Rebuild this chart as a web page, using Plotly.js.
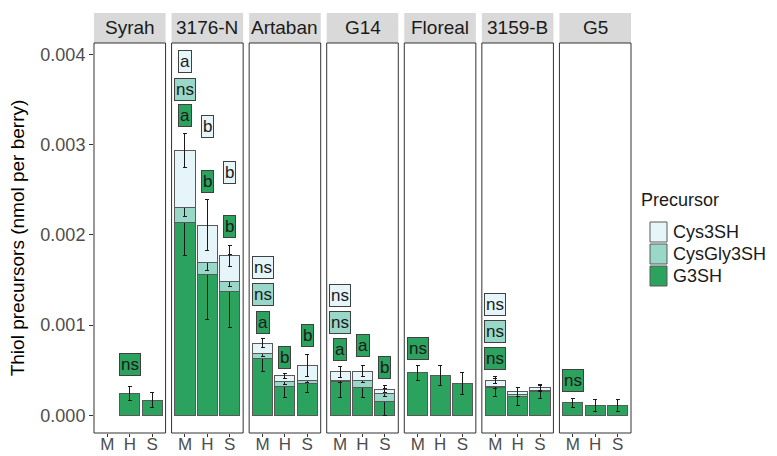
<!DOCTYPE html>
<html>
<head>
<meta charset="utf-8">
<script src="https://cdn.plot.ly/plotly-3.0.1.min.js"></script>
<style>html,body{margin:0;padding:0;background:#fff;}#chart{width:777px;height:456px;}</style>
</head>
<body>
<div id="chart"></div>
<script>
// ---------- data ----------
const categories = ['M', 'H', 'S'];
const facets = ['Syrah', '3176-N', 'Artaban', 'G14', 'Floreal', '3159-B', 'G5'];
const precursors = ['G3SH', 'CysGly3SH', 'Cys3SH'];
const legendOrder = ['Cys3SH', 'CysGly3SH', 'G3SH'];

// stacked segment sizes (nmol per berry), one row per facet, columns M,H,S
const g3sh = [
  [null, 0.00024, 0.000167],
  [0.00214, 0.001567, 0.001378],
  [0.00063, 0.00032, 0.00035],
  [0.00037, 0.00031, 0.00015],
  [0.00047, 0.000437, 0.00035],
  [0.000307, 0.00021, 0.00026],
  [0.000137, 0.00011, 0.00011]
];
const cysgly3sh = [
  [null, null, null],
  [0.00017, 0.000123, 0.000111],
  [0.000055, 0.00005, 0.00004],
  [0.00002, 0.00008, 0.00009],
  [null, null, null],
  [0.000013, 0.000023, 0.00002],
  [null, null, null]
];
const cys3sh = [
  [null, null, null],
  [0.00063, 0.00042, 0.000278],
  [0.000112, 0.000067, 0.000165],
  [0.00009, 0.0001, 0.00005],
  [null, null, null],
  [0.00007, 0.000027, 0.00003],
  [null, null, null]
];
// standard errors
const g3shErr = [
  [null, 0.00008, 0.000085],
  [0.00037, 0.0005, 0.0004],
  [0.00015, 0.00012, 0.0001],
  [0.00017, 0.00011, 0.00015],
  [0.00008, 0.00011, 0.00012],
  [0.0001, 0.0001, 0.00007],
  [0.00005, 0.00007, 0.00007]
];
const cysgly3shErr = [
  [null, null, null],
  [0.0001, 0.00008, 0.00006],
  [0.00003, 0.00003, 0.00003],
  [0.00003, 0.00003, 0.00003],
  [null, null, null],
  [0.00002, 0.00002, 0.00002],
  [null, null, null]
];
const cys3shErr = [
  [null, null, null],
  [0.00019, 0.00028, 0.00012],
  [0.00005, 0.00003, 0.00012],
  [0.00006, 0.00006, 0.00004],
  [null, null, null],
  [0.00004, 0.00005, 0.00003],
  [null, null, null]
];

// significance labels
const labelFacet = ['Syrah', '3176-N', '3176-N', '3176-N', '3176-N', '3176-N', '3176-N', '3176-N',
  'Artaban', 'Artaban', 'Artaban', 'Artaban', 'Artaban',
  'G14', 'G14', 'G14', 'G14', 'G14',
  'Floreal', '3159-B', '3159-B', '3159-B', 'G5'];
const labelCat = ['H', 'M', 'M', 'M', 'H', 'H', 'S', 'S',
  'M', 'M', 'M', 'H', 'S',
  'M', 'M', 'M', 'H', 'S',
  'M', 'M', 'M', 'M', 'M'];
const labelY = [0.00056, 0.00393, 0.00361, 0.00333, 0.0032, 0.00259, 0.00269, 0.00209,
  0.00164, 0.00134, 0.00103, 0.00064, 0.00088,
  0.00133, 0.00103, 0.00073, 0.00077, 0.00053,
  0.00074, 0.00123, 0.00093, 0.00063, 0.00039];
const labelText = ['ns', 'a', 'ns', 'a', 'b', 'b', 'b', 'b',
  'ns', 'ns', 'a', 'b', 'b',
  'ns', 'ns', 'a', 'a', 'b',
  'ns', 'ns', 'ns', 'ns', 'ns'];
const labelPrec = ['G3SH', 'Cys3SH', 'CysGly3SH', 'G3SH', 'Cys3SH', 'G3SH', 'Cys3SH', 'G3SH',
  'Cys3SH', 'CysGly3SH', 'G3SH', 'G3SH', 'G3SH',
  'Cys3SH', 'CysGly3SH', 'G3SH', 'G3SH', 'G3SH',
  'G3SH', 'Cys3SH', 'CysGly3SH', 'G3SH', 'G3SH'];

const yTicks = [0, 0.001, 0.002, 0.003, 0.004];

// ---------- styling ----------
const fill = {G3SH: '#2ca25f', CysGly3SH: '#99d8c9', Cys3SH: '#e5f5f9'};
const seriesVals = {G3SH: g3sh, CysGly3SH: cysgly3sh, Cys3SH: cys3sh};
const seriesErr = {G3SH: g3shErr, CysGly3SH: cysgly3shErr, Cys3SH: cys3shErr};
const FONT = 'Liberation Sans, Arial, sans-serif';

const W = 777, H = 456;
const mL = 94, mR = 146, mT = 43, mB = 23;
const plotW = W - mL - mR, plotH = H - mT - mB;
const gapPx = 6;
const panelW = (plotW - gapPx * (facets.length - 1)) / facets.length;
const px2x = px => (px - mL) / plotW;
const py2y = py => (H - mB - py) / plotH;

const traces = [];
const layout = {
  width: W, height: H,
  margin: {l: mL, r: mR, t: mT, b: mB, pad: 0},
  paper_bgcolor: '#ffffff', plot_bgcolor: '#ffffff',
  barmode: 'stack', bargap: 0.1,
  font: {family: FONT, color: '#4d4d4d'},
  showlegend: false,
  shapes: [], annotations: []
};

const stripH = 30 / plotH;

facets.forEach((f, i) => {
  const ax = i === 0 ? 'x' : 'x' + (i + 1);
  const axKey = i === 0 ? 'xaxis' : 'xaxis' + (i + 1);
  const d0 = (i * (panelW + gapPx)) / plotW;
  const d1 = (i * (panelW + gapPx) + panelW) / plotW;
  layout[axKey] = {
    domain: [d0, d1], anchor: 'y', type: 'category',
    categoryorder: 'array', categoryarray: categories,
    range: [-0.6, 2.6], showgrid: false, zeroline: false,
    showline: false, ticks: 'outside', ticklen: 3, tickcolor: '#333333', tickwidth: 1,
    ticklabelstandoff: -7,
    tickfont: {size: 17, color: '#4d4d4d', family: FONT}, automargin: false, fixedrange: true
  };
  precursors.forEach(p => {
    traces.push({
      type: 'bar', name: p, showlegend: false,
      x: categories, y: seriesVals[p][i], xaxis: ax, yaxis: 'y',
      width: 0.9,
      marker: {color: fill[p], line: {color: '#595959', width: 1}},
      error_y: {type: 'data', array: seriesErr[p][i], visible: true, color: '#1a1a1a', thickness: 1, width: 2},
      hoverinfo: 'skip'
    });
  });
  // panel border
  layout.shapes.push({type: 'rect', xref: ax + ' domain', yref: 'y domain', x0: 0, x1: 1, y0: 0, y1: 1,
    line: {color: '#333333', width: 1}, fillcolor: 'rgba(0,0,0,0)', layer: 'above'});
  // strip
  layout.shapes.push({type: 'rect', xref: ax + ' domain', yref: 'paper', x0: 0, x1: 1, y0: 1, y1: 1 + stripH,
    line: {width: 0}, fillcolor: '#d9d9d9', layer: 'below'});
  layout.annotations.push({xref: ax + ' domain', yref: 'paper', x: 0.5, y: 1 + stripH / 2,
    text: f, showarrow: false, xanchor: 'center', yanchor: 'middle',
    font: {size: 19, color: '#1a1a1a', family: FONT}});
});

layout.yaxis = {
  domain: [0, 1], anchor: 'x', range: [-0.000197, 0.00413],
  tickvals: yTicks, ticktext: yTicks.map(v => v.toFixed(3)),
  showgrid: false, zeroline: false, showline: false,
  ticks: 'outside', ticklen: 4, tickcolor: '#333333', tickwidth: 1,
  tickfont: {size: 18, color: '#4d4d4d', family: FONT},
  title: {text: 'Thiol precursors (nmol per berry)', font: {size: 19, color: '#000000', family: FONT}, standoff: 10},
  automargin: false, fixedrange: true
};

// significance labels
labelText.forEach((t, k) => {
  const i = facets.indexOf(labelFacet[k]);
  const ax = i === 0 ? 'x' : 'x' + (i + 1);
  layout.annotations.push({
    xref: ax, yref: 'y', x: labelCat[k], y: labelY[k], text: t, showarrow: false,
    xanchor: 'center', yanchor: 'middle',
    font: {size: 17, color: '#1a1a1a', family: FONT},
    bgcolor: fill[labelPrec[k]], bordercolor: '#404040', borderwidth: 1, borderpad: 1
  });
});

// legend (drawn as keys + real text)
layout.annotations.push({xref: 'paper', yref: 'paper', x: px2x(639), y: py2y(200), text: 'Precursor',
  showarrow: false, xanchor: 'left', yanchor: 'middle', font: {size: 18, color: '#1a1a1a', family: FONT}});
legendOrder.forEach((p, j) => {
  const cy = 232 + j * 22;
  layout.shapes.push({type: 'rect', xref: 'paper', yref: 'paper',
    x0: px2x(650), x1: px2x(667), y0: py2y(cy + 10), y1: py2y(cy - 10),
    fillcolor: fill[p], line: {color: '#595959', width: 1}});
  layout.annotations.push({xref: 'paper', yref: 'paper', x: px2x(671), y: py2y(cy), text: p,
    showarrow: false, xanchor: 'left', yanchor: 'middle', font: {size: 18, color: '#1a1a1a', family: FONT}});
});

Plotly.newPlot('chart', traces, layout, {displayModeBar: false, staticPlot: true});
</script>
</body>
</html>
